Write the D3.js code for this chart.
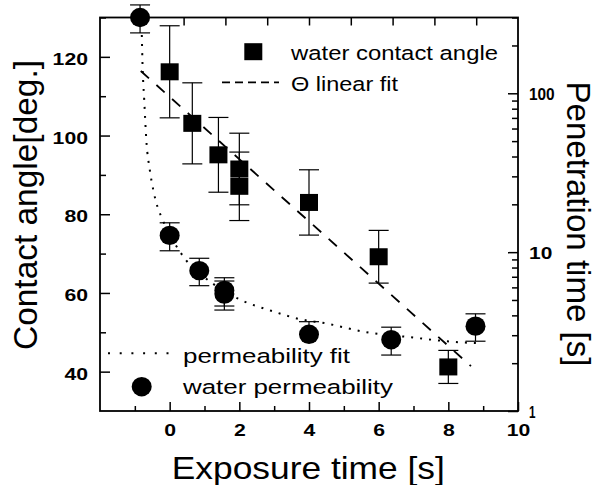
<!DOCTYPE html>
<html>
<head>
<meta charset="utf-8">
<script src="https://cdn.jsdelivr.net/npm/d3@7"></script>
<style>
  html, body { margin: 0; padding: 0; background: #fff; }
  svg { display: block; font-family: "Liberation Sans", Arial, Helvetica, sans-serif; }
</style>
</head>
<body>
<svg id="chart" width="597" height="485"></svg>
<script>
// Water contact angle (left axis, degrees) vs. exposure time
const angleX   = [0, 0.65, 1.4, 2, 2, 4, 6, 8];
const angleVal = [116.2, 103.1, 95.1, 91.5, 87.1, 83.0, 69.2, 41.2];
const angleErr = [11.7, 10.3, 9.5, 9.1, 8.7, 8.3, 6.7, 4.2];

// Linear fit of the contact angle
const linFitX = [-0.83, 8.65];
const linFitY = [116.4, 41.4];

// Water penetration time (right log axis, seconds)
const permX       = [-0.85, 0, 0.85, 1.57, 1.57, 4, 6.36, 8.78];
const permVal     = [300, 12.75, 7.65, 5.74, 5.45, 3.04, 2.81, 3.42];
const permErrLow  = [60, 2.55, 1.5, 1.16, 1.13, 0, 0.56, 0.67];
const permErrHigh = [60, 2.55, 1.5, 1.16, 1.13, 0.61, 0.56, 0.67];

// Permeability fit curve
const permFitX = [-0.80, -0.78, -0.73, -0.67, -0.57, -0.47, -0.35, -0.24, 0.29, 0.47, 1.23, 2.09, 2.91, 3.73, 4.49, 5.65, 6.80, 8.43, 8.8];
const permFitY = [233, 154, 90.6, 50.8, 32.9, 24.6, 19.3, 16.7, 10.1, 8.9, 6.36, 4.95, 4.28, 3.79, 3.56, 3.13, 2.93, 2.70, 2.68];

// Tick values
const xMajor = [0, 2, 4, 6, 8, 10];
const xMinor = [-1, 1, 3, 5, 7, 9];
const topTicks = [1, 2, 3, 4, 5, 6, 7, 8, 9];
const leftMajor = [40, 60, 80, 100, 120];
const leftMinor = [50, 70, 90, 110, 130];
const rightMajor = [1, 10, 100];
const rightMinor = [2, 3, 4, 5, 6, 7, 8, 9, 20, 30, 40, 50, 60, 70, 80, 90, 200, 300];

// Legend labels
const legendTop = ["water contact angle", "\u0398 linear fit"];
const legendBottom = ["permeability fit", "water permeability"];
const axisTitles = { x: "Exposure time [s]", left: "Contact angle[deg.]", right: "Penetration time [s]" };

const svg = d3.select("#chart");
const L = 100, R = 518, T = 17.5, B = 411;
const FONT = '"Liberation Sans", Arial, Helvetica, sans-serif';

const x = d3.scaleLinear().domain([-2, 10]).range([L, R]);
const xTop = d3.scaleLinear().domain([0, 10]).range([L, R]);
const yL = d3.scaleLinear().domain([30, 130]).range([B, T]);
const yR = d3.scaleLog().domain([1, 300]).range([B, T]);

function stretch(sel, w) {
  sel.attr("textLength", w).attr("lengthAdjust", "spacingAndGlyphs");
}

// Place a tick label at (tx, ty) and widen it horizontally to the wanted width
function placeLabel(node, tx, ty, target) {
  const t = d3.select(node).attr("x", 0).attr("y", 0).attr("dy", 0);
  const w = node.getComputedTextLength();
  const k = w > 0 ? target / w : 1;
  t.attr("transform", `translate(${tx},${ty}) scale(${k},1)`);
}

function styleAxis(g) {
  g.select(".domain").remove();
  g.attr("font-family", FONT).attr("font-size", 16.5).attr("font-weight", "bold");
  g.selectAll(".tick line").attr("stroke", "#000").attr("stroke-width", 1.5);
  g.selectAll(".tick text").attr("fill", "#000")
    .attr("font-family", FONT).attr("font-size", 16.5).attr("font-weight", "bold");
}

// Bottom axis
svg.append("g").attr("transform", `translate(0,${B})`)
  .call(d3.axisBottom(x).tickValues(xMinor).tickSizeInner(-5).tickSizeOuter(0).tickFormat(""))
  .call(styleAxis);
const gx = svg.append("g").attr("transform", `translate(0,${B})`)
  .call(d3.axisBottom(x).tickValues(xMajor).tickSizeInner(-9).tickSizeOuter(0))
  .call(styleAxis);
gx.selectAll(".tick text").each(function (d) { placeLabel(this, 0, 25, String(d).length * 11.8); });

// Top axis (ticks only)
svg.append("g").attr("transform", `translate(0,${T})`)
  .call(d3.axisTop(xTop).tickValues(topTicks).tickSizeInner(-8).tickSizeOuter(0).tickFormat(""))
  .call(styleAxis);

// Left axis
svg.append("g").attr("transform", `translate(${L},0)`)
  .call(d3.axisLeft(yL).tickValues(leftMinor).tickSizeInner(-6).tickSizeOuter(0).tickFormat(""))
  .call(styleAxis);
const gl = svg.append("g").attr("transform", `translate(${L},0)`)
  .call(d3.axisLeft(yL).tickValues(leftMajor).tickSizeInner(-10).tickSizeOuter(0))
  .call(styleAxis);
gl.selectAll(".tick text").each(function (d) { placeLabel(this, -12, 7.5, String(d).length * 11.8); });

// Right axis (log)
svg.append("g").attr("transform", `translate(${R},0)`)
  .call(d3.axisRight(yR).tickValues(rightMinor).tickSizeInner(-6).tickSizeOuter(0).tickFormat(""))
  .call(styleAxis);
const gr = svg.append("g").attr("transform", `translate(${R},0)`)
  .call(d3.axisRight(yR).tickValues(rightMajor).tickSizeInner(-10).tickSizeOuter(0).tickFormat(d3.format("d")))
  .call(styleAxis);
const rightWidths = { 1: 6.5, 10: 23.3, 100: 25.7 };
gr.selectAll(".tick text").each(function (d) { placeLabel(this, 11, 6.2, rightWidths[d]); });

// Frame
svg.append("rect").attr("x", L).attr("y", T).attr("width", R - L).attr("height", B - T)
  .attr("fill", "none").attr("stroke", "#000").attr("stroke-width", 1.8);

// Fits
const linLine = d3.line().x(d => x(d[0])).y(d => yL(d[1]));
svg.append("path").datum(d3.zip(linFitX, linFitY))
  .attr("d", linLine).attr("fill", "none").attr("stroke", "#000")
  .attr("stroke-width", 1.8).attr("stroke-dasharray", "11,10");

const permLine = d3.line().x(d => x(d[0])).y(d => yR(d[1])).curve(d3.curveMonotoneX);
svg.append("path").datum(d3.zip(permFitX, permFitY))
  .attr("d", permLine).attr("fill", "none").attr("stroke", "#000")
  .attr("stroke-width", 2).attr("stroke-dasharray", "2,7");

// Error bars
function errorBar(g, cx, yTop, yBot, yMid) {
  const cap = 10;
  g.append("line").attr("x1", cx).attr("x2", cx).attr("y1", yTop).attr("y2", yBot)
    .attr("stroke", "#000").attr("stroke-width", 1.2);
  if (yTop < yMid - 0.5)
    g.append("line").attr("x1", cx - cap).attr("x2", cx + cap).attr("y1", yTop).attr("y2", yTop)
      .attr("stroke", "#000").attr("stroke-width", 1.2);
  if (yBot > yMid + 0.5)
    g.append("line").attr("x1", cx - cap).attr("x2", cx + cap).attr("y1", yBot).attr("y2", yBot)
      .attr("stroke", "#000").attr("stroke-width", 1.2);
}

const eb = svg.append("g");
angleX.forEach((v, i) => {
  errorBar(eb, x(v), yL(angleVal[i] + angleErr[i]), yL(angleVal[i] - angleErr[i]), yL(angleVal[i]));
});
permX.forEach((v, i) => {
  errorBar(eb, x(v), yR(permVal[i] + permErrHigh[i]), yR(permVal[i] - permErrLow[i]), yR(permVal[i]));
});

// Markers
svg.append("g").selectAll("rect").data(d3.zip(angleX, angleVal)).join("rect")
  .attr("x", d => x(d[0]) - 9).attr("y", d => yL(d[1]) - 8.5)
  .attr("width", 18).attr("height", 17).attr("fill", "#000");

svg.append("g").selectAll("ellipse").data(d3.zip(permX, permVal)).join("ellipse")
  .attr("cx", d => x(d[0])).attr("cy", d => yR(d[1]))
  .attr("rx", 10).attr("ry", 9.7).attr("fill", "#000");

// Legends
const lg = svg.append("g").attr("font-family", FONT).attr("font-size", 20.5).attr("fill", "#000");
lg.append("rect").attr("x", 253.3 - 9).attr("y", 51.7 - 8.5).attr("width", 18).attr("height", 17).attr("fill", "#000");
lg.append("text").attr("x", 291).attr("y", 60).text(legendTop[0]).call(stretch, 207);
lg.append("line").attr("x1", 222).attr("x2", 279).attr("y1", 82.3).attr("y2", 82.3)
  .attr("stroke", "#000").attr("stroke-width", 1.8).attr("stroke-dasharray", "8,5");
lg.append("text").attr("x", 291).attr("y", 91).text(legendTop[1]).call(stretch, 107);

lg.append("line").attr("x1", 108).attr("x2", 170).attr("y1", 353.3).attr("y2", 353.3)
  .attr("stroke", "#000").attr("stroke-width", 2).attr("stroke-dasharray", "2,9.7");
lg.append("text").attr("x", 183).attr("y", 363.3).text(legendBottom[0]).call(stretch, 167);
lg.append("ellipse").attr("cx", 141.7).attr("cy", 386.7).attr("rx", 10).attr("ry", 9.7).attr("fill", "#000");
lg.append("text").attr("x", 183).attr("y", 394.3).text(legendBottom[1]).call(stretch, 210);

// Axis titles
const tg = svg.append("g").attr("font-family", FONT).attr("fill", "#000");
tg.append("text").attr("x", 308.3).attr("y", 479).attr("text-anchor", "middle")
  .attr("font-size", 32).text(axisTitles.x).call(stretch, 273);
tg.append("text").attr("transform", "translate(36.7,205) rotate(-90)").attr("text-anchor", "middle")
  .attr("font-size", 33.5).text(axisTitles.left).call(stretch, 290);
tg.append("text").attr("transform", "translate(567,224) rotate(90)").attr("text-anchor", "middle")
  .attr("font-size", 32.5).text(axisTitles.right).call(stretch, 285);
</script>
</body>
</html>
